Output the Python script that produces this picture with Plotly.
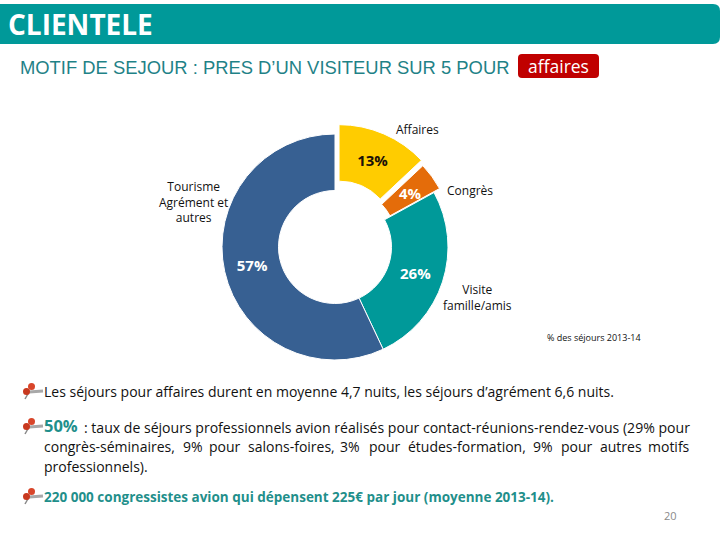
import plotly.graph_objects as go

W, H = 720, 540
categories = ["Affaires", "Congrès", "Visite famille/amis", "Tourisme Agrément et autres"]
values = [13, 4, 26, 57]
colors = ["#FFCC00", "#E46C0A", "#009999", "#376092"]
pulls = [0.09, 0.06, 0, 0]
label_colors = ["#1a1008", "white", "white", "white"]

FONT = "Open Sans"
DARK = "#111111"
TEAL = "#1F8F8B"


def px(x):
    return x / W


def py(y):
    return 1 - y / H


def rrect(x0, y0, x1, y1, r, fill):
    path = (f"M{px(x0+r)},{py(y0)} L{px(x1-r)},{py(y0)} Q{px(x1)},{py(y0)} {px(x1)},{py(y0+r)} "
            f"L{px(x1)},{py(y1-r)} Q{px(x1)},{py(y1)} {px(x1-r)},{py(y1)} "
            f"L{px(x0+r)},{py(y1)} Q{px(x0)},{py(y1)} {px(x0)},{py(y1-r)} "
            f"L{px(x0)},{py(y0+r)} Q{px(x0)},{py(y0)} {px(x0+r)},{py(y0)} Z")
    return dict(type="path", path=path, xref="paper", yref="paper", fillcolor=fill, line_width=0, layer="below")


def txt(x, y, s, size=12, color=DARK, anchor="left", family=FONT):
    return dict(x=px(x), y=py(y), xref="paper", yref="paper", text=s, showarrow=False, xanchor=anchor,
                yanchor="middle", align="center" if anchor == "center" else "left",
                font=dict(size=size, color=color, family=family))


def pin(y):
    x = 29
    return [
        dict(type="line", xref="paper", yref="paper", x0=px(x), y0=py(y + 3), x1=px(x + 14), y1=py(y + 2),
             line=dict(color="#a8a8a8", width=3), layer="below"),
        dict(type="line", xref="paper", yref="paper", x0=px(x - 4), y0=py(y + 10), x1=px(x), y1=py(y + 3),
             line=dict(color="#888888", width=1.5)),
        dict(type="circle", xref="paper", yref="paper", x0=px(x - 6), y0=py(y + 6), x1=px(x + 1), y1=py(y - 1),
             fillcolor="#C8391F", line_width=0),
        dict(type="circle", xref="paper", yref="paper", x0=px(x - 1), y0=py(y + 1), x1=px(x + 6), y1=py(y - 6),
             fillcolor="#D8452A", line_width=0),
    ]


cx, cy, r = 335, 247, 113
half = r * (1 + max(pulls))
fig = go.Figure(go.Pie(
    labels=categories, values=values, pull=pulls, hole=0.5, sort=False, direction="clockwise", rotation=0,
    marker=dict(colors=colors, line=dict(color="white", width=1)),
    text=[f"{v}%" if v != 4 else "" for v in values],
    textinfo="text", textposition="inside", insidetextorientation="horizontal",
    insidetextfont=dict(size=15, color=label_colors, family=FONT, weight="bold"),
    hoverinfo="skip", showlegend=False,
    domain=dict(x=[px(cx - half), px(cx + half)], y=[py(cy + half), py(cy - half)]),
))

annos = [
    txt(6, 24, "<b>CLIENTELE</b>", 28, "white"),
    txt(18, 68, "MOTIF DE SEJOUR : PRES D’UN VISITEUR SUR 5 POUR", 18.4, "#1F8287", family="Liberation Sans"),
    txt(558, 66, "affaires", 17.5, "white", "center"),
    txt(417, 129, "Affaires", 12, DARK, "center"),
    txt(193, 202, "Tourisme<br>Agrément et<br>autres", 12, DARK, "center"),
    txt(470, 191, "Congrès", 12, DARK, "center"),
    txt(477, 297, "Visite<br>famille/amis", 12, DARK, "center"),
    txt(594, 337, "% des séjours 2013-14", 9, DARK, "center"),
    txt(410, 193, f"<b>{values[1]}%</b>", 15, "white", "center"),
    txt(42, 391, "Les séjours pour affaires durent en moyenne 4,7 nuits, les séjours d’agrément 6,6 nuits.", 14),
    txt(42, 425, "<b>50%</b>", 16.5, TEAL),
    txt(82, 427, ": taux de séjours professionnels avion réalisés pour contact-réunions-rendez-vous (29% pour", 14.07),
    txt(42, 466, "professionnels).", 14),
    txt(42, 497, "<b>220 000 congressistes avion qui dépensent 225€ par jour (moyenne 2013-14).</b>", 13.5, TEAL),
    txt(670, 515, "20", 11, "#8a8a8a", "center"),
]
for x, word in zip([44, 183, 209, 248, 340, 369, 408, 533, 561, 600, 648],
                   ["congrès-séminaires,", "9%", "pour", "salons-foires,", "3%", "pour", "études-formation,",
                    "9%", "pour", "autres", "motifs"]):
    annos.append(txt(x - 2, 447, word, 14))

shapes = [rrect(-12, 4, 720, 44, 7, "#009999"), rrect(518, 54, 599, 78, 4, "#C00000")]
for y in (389, 424, 494):
    shapes.extend(pin(y))

fig.update_layout(width=W, height=H, margin=dict(l=0, r=0, t=0, b=0), paper_bgcolor="white",
                  plot_bgcolor="white", shapes=shapes, annotations=annos)
fig.write_html("out.html", post_script="document.body.style.margin='0';", config={"displayModeBar": False})
